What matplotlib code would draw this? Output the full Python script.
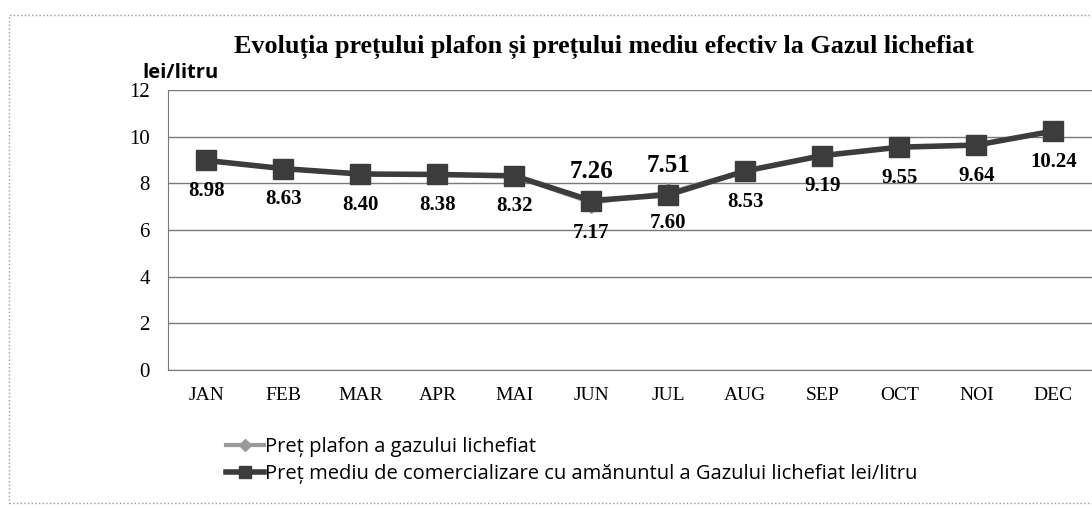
import matplotlib.pyplot as plt
from matplotlib.patches import Rectangle

luni = ["JAN", "FEB", "MAR", "APR", "MAI", "JUN", "JUL", "AUG", "SEP", "OCT", "NOI", "DEC"]
pret_plafon = [8.98, 8.63, 8.40, 8.38, 8.32, 7.17, 7.60, 8.53, 9.19, 9.55, 9.64, 10.24]
pret_mediu = [8.98, 8.63, 8.40, 8.38, 8.32, 7.26, 7.51, 8.53, 9.19, 9.55, 9.64, 10.24]
y_ticks = [0, 2, 4, 6, 8, 10, 12]

serif = "Liberation Serif"
sans = "Open Sans"

fig = plt.figure(figsize=(10.92, 5.08), dpi=100)
ax = fig.add_axes([0.1538, 0.2717, 0.846, 0.5511])

x = list(range(len(luni)))
ax.plot(x, pret_plafon, color="#9a9a9a", lw=3, marker="D", ms=10,
        label="Preț plafon a gazului lichefiat")
ax.plot(x, pret_mediu, color="#3c3c3c", lw=4, marker="s", ms=14,
        label="Preț mediu de comercializare cu amănuntul a Gazului lichefiat lei/litru")

# etichete valori
for i, v in enumerate(pret_plafon):
    ax.annotate(f"{v:.2f}", (i, v), xytext=(0, -22), textcoords="offset points",
                ha="center", va="center", fontsize=15, fontweight="bold", family=serif)
for i, v in enumerate(pret_mediu):
    if v != pret_plafon[i]:
        ax.annotate(f"{v:.2f}", (i, v), xytext=(0, 21), textcoords="offset points",
                    ha="center", va="center", fontsize=18, fontweight="bold", family=serif)

ax.set_xlim(-0.5, len(luni) - 0.5)
ax.set_ylim(0, 12)
ax.set_yticks(y_ticks)
ax.set_xticks(x)
ax.set_xticklabels(luni)
ax.yaxis.grid(True, color="#7a7a7a", lw=1)
ax.set_axisbelow(True)
for s in ["top", "right"]:
    ax.spines[s].set_visible(False)
ax.spines["left"].set_color("#7a7a7a")
ax.spines["bottom"].set_color("#7a7a7a")
ax.tick_params(length=0)
ax.tick_params(axis="y", pad=13, labelsize=15)
ax.tick_params(axis="x", pad=12, labelsize=14)
for lab in ax.get_xticklabels() + ax.get_yticklabels():
    lab.set_family(serif)

fig.text(0.553, 0.907, "Evoluția prețului plafon și prețului mediu efectiv la Gazul lichefiat",
         ha="center", va="center", fontsize=18.8, fontweight="bold", family=serif)
fig.text(0.13, 0.856, "lei/litru", ha="left", va="center", fontsize=14.5,
         fontweight="bold", family=sans)

fig.legend(loc="upper left", bbox_to_anchor=(0.19, 0.175), frameon=False,
           prop={"family": sans, "size": 14.5}, handlelength=1.9, handletextpad=0.05,
           labelspacing=0.35, markerscale=0.6)

fig.patches.append(Rectangle((0.008, 0.01), 1.2, 0.96, transform=fig.transFigure,
                             fill=False, ec="#9a9a9a", lw=1, ls=":"))

fig.savefig("out.png", dpi=100)
